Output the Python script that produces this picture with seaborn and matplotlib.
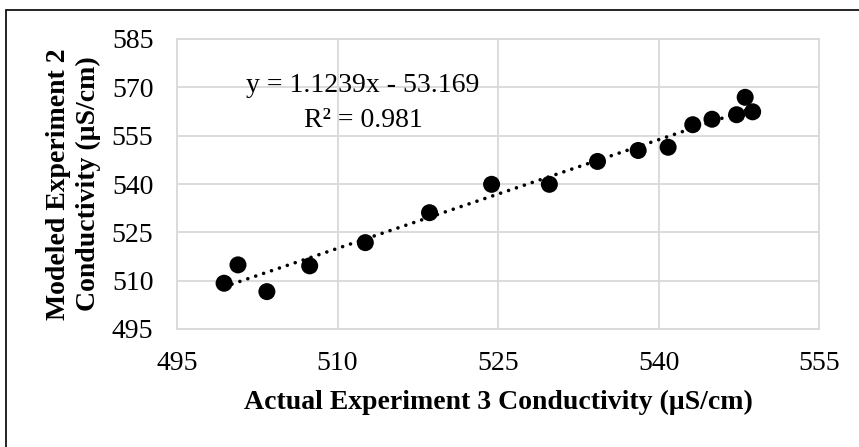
import matplotlib
matplotlib.use("Agg")
import matplotlib.pyplot as plt
import seaborn as sns
import numpy as np
import pandas as pd
from matplotlib.patches import Rectangle

# Data
actual_exp3 = [499.4, 500.7, 503.4, 507.4, 512.6, 518.6, 524.4, 529.8, 534.3,
               538.1, 540.9, 543.2, 545.0, 547.3, 548.1, 548.8]
modeled_exp2 = [509.2, 514.9, 506.6, 514.6, 521.8, 531.1, 539.9, 539.9, 547.0,
                550.4, 551.4, 558.4, 560.1, 561.5, 566.9, 562.4]
slope = 1.1239
intercept = -53.169
r_squared = 0.981
x_ticks = [495, 510, 525, 540, 555]
y_ticks = [495, 510, 525, 540, 555, 570, 585]

df = pd.DataFrame({"x": actual_exp3, "y": modeled_exp2})
trend_x = np.array([min(actual_exp3), max(actual_exp3)])
trend = pd.DataFrame({"x": trend_x, "y": slope * trend_x + intercept})

sns.set_theme(style="white")
plt.rcParams["font.family"] = ["Liberation Serif", "DejaVu Serif"]

fig = plt.figure(figsize=(8.59, 4.47), dpi=100)
ax = fig.add_axes([177 / 859, 1 - 329 / 447, (819 - 177) / 859, (329 - 39) / 447])

ax.grid(True, color="#d9d9d9", linewidth=1.3)
ax.set_axisbelow(True)

sns.lineplot(data=trend, x="x", y="y", ax=ax, color="black", linewidth=2.6,
             linestyle=(0, (0.01, 2.3)), dash_capstyle="round", zorder=2)
sns.scatterplot(data=df, x="x", y="y", ax=ax, color="black", s=150,
                edgecolor="none", zorder=3)

ax.set_xlim(495, 555)
ax.set_ylim(495, 585)
ax.set_xticks(x_ticks)
ax.set_yticks(y_ticks)
ax.tick_params(axis="both", labelsize=20, length=0, colors="black")
ax.tick_params(axis="y", pad=17)
ax.tick_params(axis="x", pad=16)
for s in ax.spines.values():
    s.set_color("#d9d9d9")
    s.set_linewidth(1.3)

ax.set_xlabel("Actual Experiment 3 Conductivity (µS/cm)", fontsize=20,
              fontweight="bold", color="black", labelpad=10)
ax.set_ylabel("Modeled Experiment 2\nConductivity (µS/cm)", fontsize=20,
              fontweight="bold", color="black", labelpad=8, linespacing=1.25)

ax.text(512.4, 568.6, f"y = {slope}x - {abs(intercept)}", ha="center",
        va="baseline", fontsize=20, color="black")
ax.text(512.4, 557.7, f"R² = {r_squared}", ha="center", va="baseline",
        fontsize=20, color="black")

fig.patches.append(Rectangle((6 / 859, -0.05), 1.1, 1 - 10 / 447 + 0.05,
                             transform=fig.transFigure, fill=False,
                             edgecolor="black", linewidth=1.2))

fig.savefig("out.png", dpi=100, facecolor="white")
